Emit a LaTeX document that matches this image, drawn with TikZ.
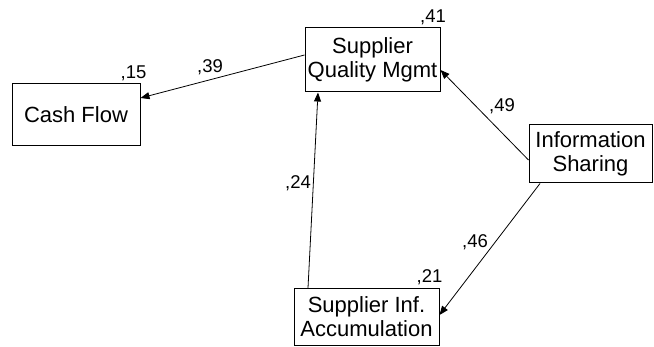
\documentclass[tikz,border=0pt]{standalone}
\usepackage{fontspec}
\setmainfont{Liberation Sans}
\usetikzlibrary{arrows.meta}
\begin{document}
\begin{tikzpicture}[x=1pt,y=-1pt,
  box/.style={draw, line width=1pt, inner sep=0pt, align=center, font=\fontsize{22}{24}\selectfont},
  link/.style={line width=0.8pt, -{Triangle[length=9pt,width=7pt]}},
  coef/.style={font=\fontsize{18.5}{20}\selectfont, inner sep=0pt, anchor=base}]
\useasboundingbox (0,0) rectangle (654,347);
\node[box, minimum width=128pt, minimum height=62pt] (cf) at (76,115) {Cash Flow};
\node[box, minimum width=135pt, minimum height=64pt] (sqm) at (372.5,60) {Supplier\\Quality Mgmt};
\node[box, minimum width=123pt, minimum height=58pt] (is) at (590.5,154) {Information\\Sharing};
\node[box, minimum width=145pt, minimum height=57pt] (sia) at (366.5,317) {Supplier Inf.\\Accumulation};
\draw[link] ([yshift=5pt]sqm.west) -- ([yshift=17pt]cf.east);
\draw[link] ([yshift=-6pt]is.west) -- ([yshift=-10pt]sqm.east);
\draw[link] ([xshift=-58.5pt]sia.north) -- ([xshift=-54.5pt]sqm.south);
\draw[link] ([xshift=-50.5pt]is.south) -- ([yshift=2pt]sia.east);
\node[coef] (c15) at (133.5,79) {,15};
\node[coef] (c39) at (210,73) {,39};
\node[coef] (c41) at (433,23) {,41};
\node[coef] (c49) at (502,112) {,49};
\node[coef] (c24) at (298,189) {,24};
\node[coef] (c46) at (475,248) {,46};
\node[coef] (c21) at (429.5,283) {,21};
\end{tikzpicture}
\end{document}
